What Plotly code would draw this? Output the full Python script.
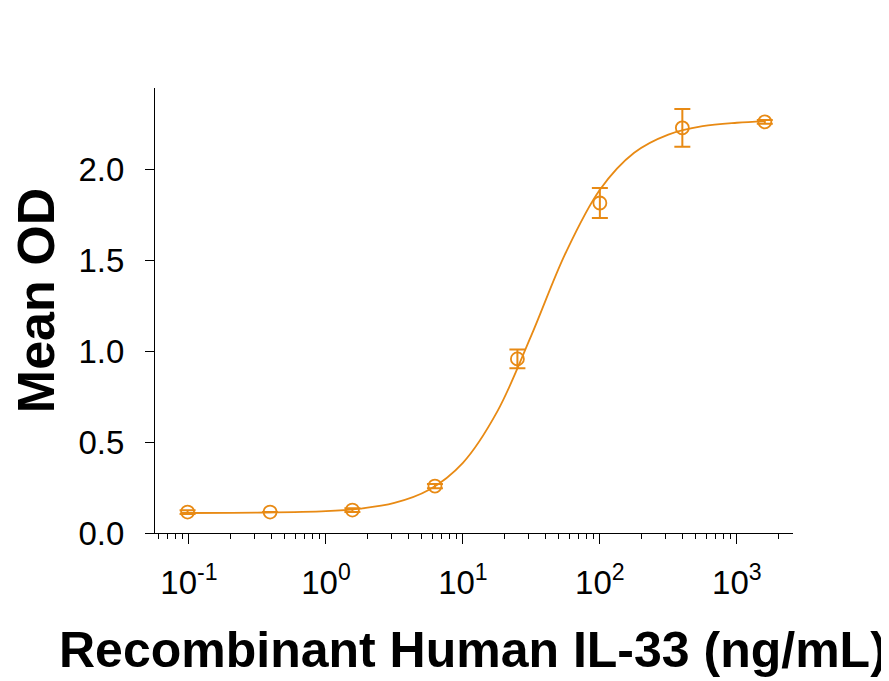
import plotly.graph_objects as go

# Data
conc = [0.0977, 0.391, 1.56, 6.25, 25, 100, 400, 1600]
mean_od = [0.115, 0.115, 0.126, 0.258, 0.957, 1.814, 2.227, 2.26]
err = [0.010, 0.0, 0.010, 0.012, 0.052, 0.082, 0.104, 0.010]

# Fitted curve
curve_x = [0.088, 0.1, 0.316, 1.0, 1.78, 3.16, 5.62, 10, 17.8, 31.6, 56.2,
           100, 178, 316, 562, 1000, 1600]
curve_y = [0.110, 0.110, 0.112, 0.120, 0.134, 0.165, 0.236, 0.386, 0.667,
           1.086, 1.539, 1.887, 2.090, 2.190, 2.236, 2.255, 2.263]

x_tickvals = [0.1, 1, 10, 100, 1000]
x_ticktext = ["10<sup>-1</sup>", "10<sup>0</sup>", "10<sup>1</sup>",
              "10<sup>2</sup>", "10<sup>3</sup>"]
y_tickvals = [0.0, 0.5, 1.0, 1.5, 2.0]
y_ticktext = ["0.0", "0.5", "1.0", "1.5", "2.0"]

x_title = "Recombinant Human IL-33 (ng/mL)"
y_title = "Mean OD"

color = "#E88A14"
font = "Liberation Sans, Arial, sans-serif"

fig = go.Figure()
fig.add_trace(go.Scatter(
    x=curve_x, y=curve_y, mode="lines", line=dict(color=color, width=1.8, shape="spline"),
    hoverinfo="skip", showlegend=False))
fig.add_trace(go.Scatter(
    x=conc, y=mean_od, mode="markers",
    marker=dict(symbol="circle-open", size=13, color=color, line=dict(width=1.8, color=color)),
    error_y=dict(type="data", array=err, visible=True, color=color, thickness=2, width=8),
    showlegend=False))

# page body has an 8px margin, so the figure is sized to end at the window edge
fig.update_layout(
    width=881, height=673,
    margin=dict(l=147, r=96, t=80, b=148, autoexpand=False),
    plot_bgcolor="white", paper_bgcolor="white",
    font=dict(family=font, color="black"),
    xaxis=dict(type="log", range=[-1.248, 3.41], showgrid=False, zeroline=False,
               automargin=False,
               showline=True, linecolor="black", linewidth=1.2,
               ticks="outside", ticklen=10, tickwidth=1.2, tickcolor="black",
               tickvals=x_tickvals, ticktext=x_ticktext,
               tickfont=dict(size=33, family=font, color="black"),
               minor=dict(ticks="outside", ticklen=5, tickwidth=1, tickcolor="black", dtick="D1"),
               ticklabelstandoff=10),
    yaxis=dict(range=[0, 2.446], showgrid=False, zeroline=False,
               automargin=False,
               showline=True, linecolor="black", linewidth=1.2,
               ticks="outside", ticklen=9, tickwidth=1.2, tickcolor="black",
               tickvals=y_tickvals, ticktext=y_ticktext,
               tickfont=dict(size=33, family=font, color="black"),
               ticklabelstandoff=14),
    annotations=[
        dict(text="<b>" + x_title + "</b>", xref="paper", yref="paper",
             x=0.498, y=0, yshift=-117, xanchor="center", yanchor="middle",
             showarrow=False, font=dict(size=50, family=font, color="black")),
        dict(text="<b>" + y_title + "</b>", xref="paper", yref="paper",
             x=0, xshift=-119, y=0.521, xanchor="center", yanchor="middle",
             textangle=-90, showarrow=False, font=dict(size=52, family=font, color="black")),
    ],
)

fig.write_html("out.html")
